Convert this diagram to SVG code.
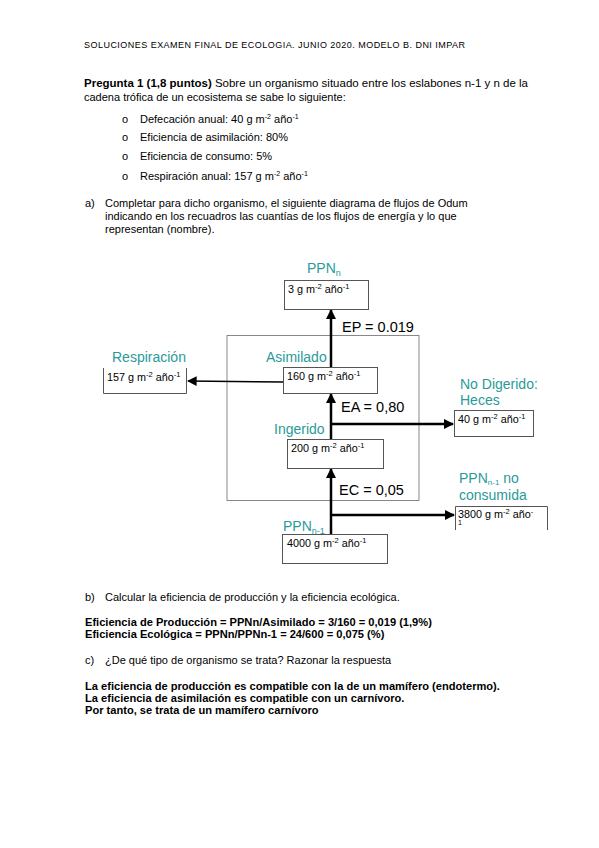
<svg xmlns="http://www.w3.org/2000/svg" width="599" height="848" viewBox="0 0 599 848">
<defs>
<style>
text{font-family:"Liberation Sans",Arial,sans-serif;fill:#000}
.body{font-size:11px}
.bold{font-size:11.1px;font-weight:bold}
.hdr{font-size:9px}
.lbl{font-size:14px;fill:#2a9a9a}
.eq{font-size:14.5px}
.bt{font-size:10.8px}
.box{fill:#fff;stroke:#555;stroke-width:1}
.arr{stroke:#000;stroke-width:2.5;fill:none}
</style>
<marker id="ah" viewBox="0 0 10 10" refX="9" refY="5" markerWidth="4" markerHeight="4" orient="auto" markerUnits="strokeWidth">
<path d="M0,0 L10,5 L0,10 z" fill="#000"/>
</marker>
<marker id="ah2" viewBox="0 0 10 10" refX="9" refY="5" markerWidth="6" markerHeight="6" orient="auto" markerUnits="strokeWidth">
<path d="M0,0 L10,5 L0,10 z" fill="#000"/>
</marker>
</defs>
<rect width="599" height="848" fill="#fff"/>

<text class="hdr" x="84" y="48" textLength="381" lengthAdjust="spacing">SOLUCIONES EXAMEN FINAL DE ECOLOGIA. JUNIO 2020. MODELO B. DNI IMPAR</text>

<text class="body" x="84" y="87" textLength="444" lengthAdjust="spacingAndGlyphs"><tspan font-weight="bold">Pregunta 1 (1,8 puntos)</tspan> Sobre un organismo situado entre los eslabones n-1 y n de la</text>
<text class="body" x="84" y="101">cadena trófica de un ecosistema se sabe lo siguiente:</text>

<g class="body">
<text x="122" y="123">o</text><text x="140" y="123">Defecación anual: 40 g m<tspan dy="-4" font-size="7">-2</tspan><tspan dy="4"> año</tspan><tspan dy="-4" font-size="7">-1</tspan></text>
<text x="122" y="141">o</text><text x="140" y="141">Eficiencia de asimilación: 80%</text>
<text x="122" y="160">o</text><text x="140" y="160">Eficiencia de consumo: 5%</text>
<text x="122" y="180">o</text><text x="140" y="180">Respiración anual: 157 g m<tspan dy="-4" font-size="7">-2</tspan><tspan dy="4"> año</tspan><tspan dy="-4" font-size="7">-1</tspan></text>
</g>

<g class="body">
<text x="85" y="207">a)</text>
<text x="105" y="207">Completar para dicho organismo, el siguiente diagrama de flujos de Odum</text>
<text x="105" y="220">indicando en los recuadros las cuantías de los flujos de energía y lo que</text>
<text x="105" y="233">representan (nombre).</text>
</g>

<rect id="outer" x="227" y="335.5" width="192" height="165" fill="none" stroke="#888" stroke-width="1"/>

<g id="connectors">
<line class="arr" x1="331" y1="367" x2="331" y2="310" marker-end="url(#ah)"/>
<line x1="283" y1="382" x2="188" y2="381" stroke="#000" stroke-width="1.6" marker-end="url(#ah2)"/>
<line class="arr" x1="331" y1="439" x2="331" y2="394" marker-end="url(#ah)"/>
<line class="arr" x1="331" y1="424" x2="453" y2="424" marker-end="url(#ah)"/>
<line class="arr" x1="331" y1="534" x2="331" y2="469" marker-end="url(#ah)"/>
<line class="arr" x1="331" y1="515" x2="454" y2="515" marker-end="url(#ah)"/>
</g>

<g id="ppnn">
<text class="lbl" x="307" y="273" font-size="15">PPN<tspan font-size="9" dy="3">n</tspan></text>
<rect class="box" x="284.5" y="280.5" width="84" height="29"/>
<text class="bt" x="288" y="293">3 g m<tspan dy="-4" font-size="7.5">-2</tspan><tspan dy="4"> año</tspan><tspan dy="-4" font-size="7.5">-1</tspan></text>
</g>

<text class="eq" x="342" y="332">EP = 0.019</text>

<g id="respiracion">
<text class="lbl" x="112" y="362">Respiración</text>
<path d="M103.5,368 V393.5 H186.5 V368" fill="none" stroke="#555" stroke-width="1"/>
<text class="bt" x="107" y="381">157 g m<tspan dy="-4" font-size="7.5">-2</tspan><tspan dy="4"> año</tspan><tspan dy="-4" font-size="7.5">-1</tspan></text>
</g>

<g id="asimilado">
<text class="lbl" x="266" y="362">Asimilado</text>
<rect class="box" x="283.5" y="367.5" width="94" height="26"/>
<text class="bt" x="287" y="380">160 g m<tspan dy="-4" font-size="7.5">-2</tspan><tspan dy="4"> año</tspan><tspan dy="-4" font-size="7.5">-1</tspan></text>
</g>

<text class="eq" x="341" y="412" font-size="14">EA = 0,80</text>

<g id="heces">
<text class="lbl" x="460" y="389" font-size="14.5">No Digerido:</text>
<text class="lbl" x="460" y="405" font-size="14.5">Heces</text>
<rect class="box" x="454.5" y="410.5" width="79" height="26"/>
<text class="bt" x="458" y="423">40 g m<tspan dy="-4" font-size="7.5">-2</tspan><tspan dy="4"> año</tspan><tspan dy="-4" font-size="7.5">-1</tspan></text>
</g>

<g id="ingerido">
<text class="lbl" x="274" y="434">Ingerido</text>
<rect class="box" x="287.5" y="439.5" width="96" height="29"/>
<text class="bt" x="291" y="452">200 g m<tspan dy="-4" font-size="7.5">-2</tspan><tspan dy="4"> año</tspan><tspan dy="-4" font-size="7.5">-1</tspan></text>
</g>

<text class="eq" x="339" y="495" font-size="14">EC = 0,05</text>

<g id="noconsumida">
<text class="lbl" x="459" y="483" font-size="14.5">PPN<tspan font-size="8" dy="2">n-1</tspan><tspan dy="-2"> no</tspan></text>
<text class="lbl" x="459" y="500" font-size="14.5">consumida</text>
<path d="M455.5,530 V506.5 H547.5 V530" fill="none" stroke="#555" stroke-width="1"/>
<text class="bt" x="458" y="518">3800 g m<tspan dy="-4" font-size="7.5">-2</tspan><tspan dy="4"> año</tspan><tspan dy="-4" font-size="7.5">-</tspan></text>
<text x="458" y="525" font-size="7">1</text>
</g>

<g id="ppnn1">
<text class="lbl" x="283" y="531" font-size="15">PPN<tspan font-size="9" dy="3">n-1</tspan></text>
<rect class="box" x="282.5" y="534.5" width="105" height="29"/>
<text class="bt" x="287" y="547">4000 g m<tspan dy="-4" font-size="7.5">-2</tspan><tspan dy="4"> año</tspan><tspan dy="-4" font-size="7.5">-1</tspan></text>
</g>

<g class="body">
<text x="85" y="601">b)</text>
<text x="105" y="601">Calcular la eficiencia de producción y la eficiencia ecológica.</text>
</g>
<text class="bold" x="85" y="626">Eficiencia de Producción = PPNn/Asimilado = 3/160 = 0,019 (1,9%)</text>
<text class="bold" x="85" y="638">Eficiencia Ecológica = PPNn/PPNn-1 = 24/600 = 0,075 (%)</text>
<g class="body">
<text x="85" y="664">c)</text>
<text x="105" y="664">¿De qué tipo de organismo se trata? Razonar la respuesta</text>
</g>
<text class="bold" x="85" y="690">La eficiencia de producción es compatible con la de un mamífero (endotermo).</text>
<text class="bold" x="85" y="702">La eficiencia de asimilación es compatible con un carnívoro.</text>
<text class="bold" x="85" y="714">Por tanto, se trata de un mamífero carnívoro</text>
</svg>
